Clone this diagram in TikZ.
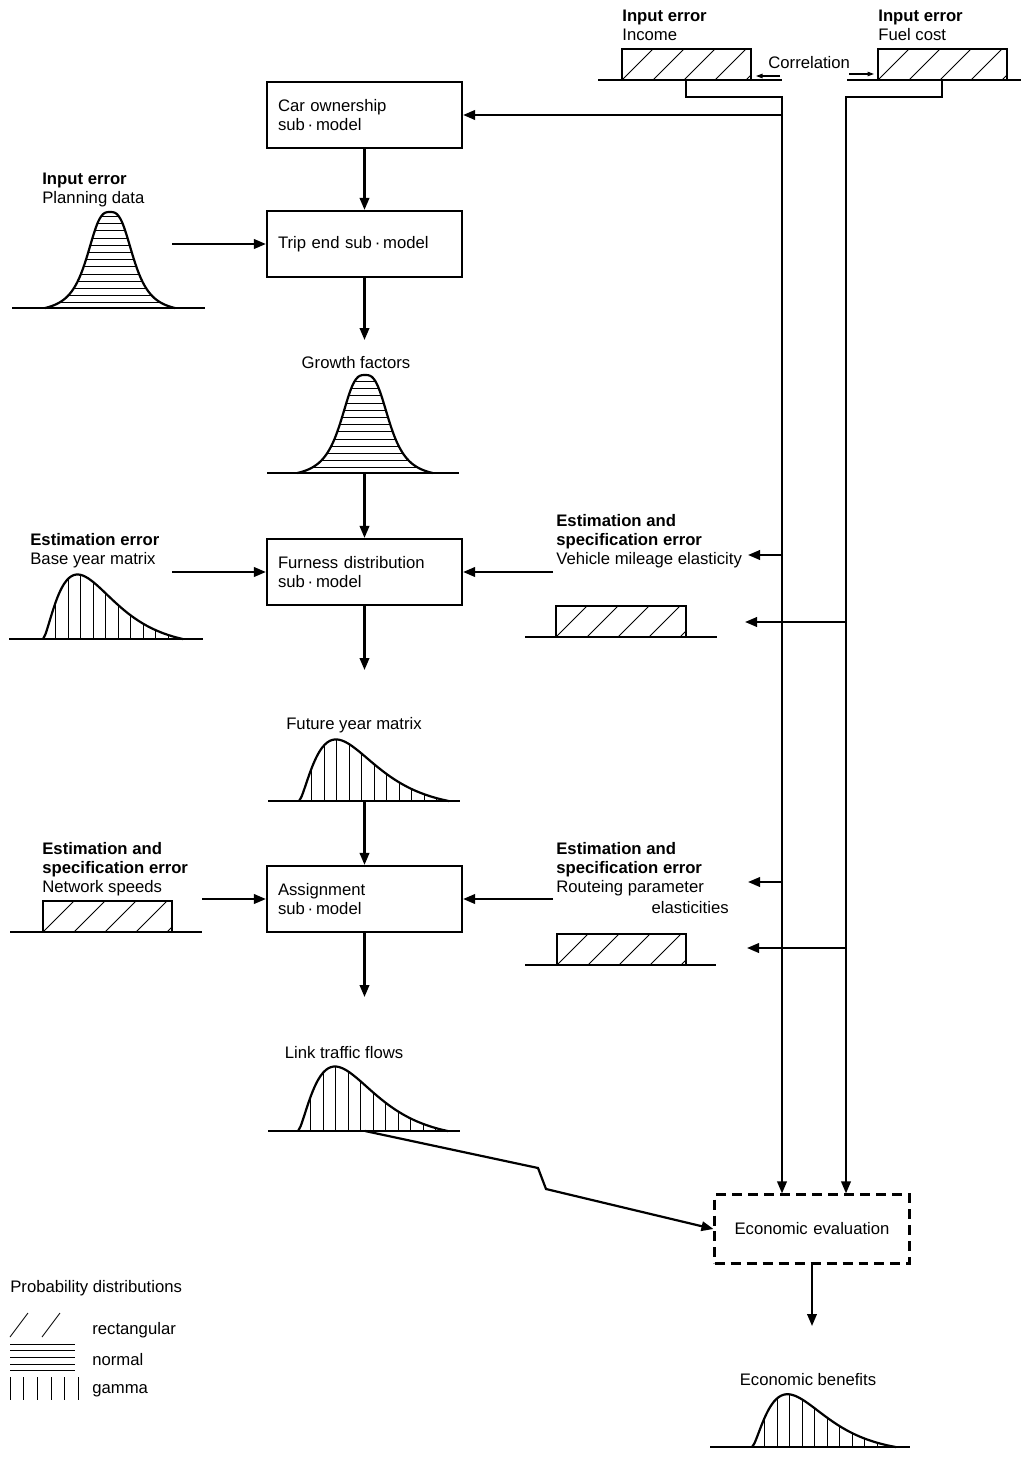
\documentclass[tikz,border=0pt]{standalone}
\usepackage{fontspec}
\setmainfont{Liberation Sans}
\usetikzlibrary{arrows.meta}

\newcommand{\txtsize}{\fontsize{9.5}{10.8}\selectfont}

% rectangular distribution: base from #1 to #2, block from #3 to #4, baseline #5
\newcommand{\flatbox}[5]{%
  \begin{scope}
    \clip (#3,#5) rectangle (#4,#5-31);
    \foreach \i in {0,...,4} \draw[hatch] ({#3+\i*31},#5) -- ++(31,-31);
  \end{scope}
  \draw[line] (#1,#5) -- (#2,#5);
  \draw[line] (#3,#5) rectangle (#4,#5-31);
}

% normal distribution: centre #1, baseline #2, spread #3, height #4, base from #5 to #6
\newcommand{\bellhump}[6]{%
  \begin{scope}
    \clip plot[domain=-2.6*#3:2.6*#3,samples=70] ({#1+\x},{#2-#4*(1/(1+(\x*\x/(#3*#3))*sqrt(\x*\x/(#3*#3)))-0.054)/0.946}) -- cycle;
    \foreach \i in {1,...,14} \draw[hatch] (#5,#2-\i*7.2+2) -- (#6,#2-\i*7.2+2);
  \end{scope}
  \draw[line] (#5,#2) -- (#6,#2);
  \draw[line] plot[domain=-2.6*#3:2.6*#3,samples=70,smooth] ({#1+\x},{#2-#4*(1/(1+(\x*\x/(#3*#3))*sqrt(\x*\x/(#3*#3)))-0.054)/0.946});
}

% gamma distribution: start #1, baseline #2, width #3, height #4, base from #5 to #6
\newcommand{\skewhump}[6]{%
  \begin{scope}
    \clip plot[domain=0:6,samples=60] ({#1+#3*\x/6},{#2-#4*((\x/1.5)*sqrt(\x/1.5)*exp(1.5-\x)-0.015*\x)}) -- cycle;
    \foreach \i in {1,...,11} \draw[hatch] ({#1+\i*12.5},#2) -- ++(0,-90);
  \end{scope}
  \draw[line] (#5,#2) -- (#6,#2);
  \draw[line] plot[domain=0:6,samples=60,smooth] ({#1+#3*\x/6},{#2-#4*((\x/1.5)*sqrt(\x/1.5)*exp(1.5-\x)-0.015*\x)});
}

\begin{document}
\begin{tikzpicture}[x=0.02cm,y=-0.02cm,
    line/.style={line width=1.25pt},
    hatch/.style={line width=0.5pt},
    box/.style={draw,line width=1.25pt,minimum width=3.9cm,minimum height=1.32cm,
                text width=3.46cm,inner xsep=0.22cm,align=left,font=\txtsize},
    lbl/.style={inner sep=0,align=left,font=\txtsize},
    tip/.style={-{Triangle[length=0.24cm,width=0.19cm]}},
    smalltip/.style={-{Triangle[length=0.13cm,width=0.09cm]},line width=0.6pt},
    every edge/.append style={line,tip}]
\useasboundingbox (0,0) rectangle (1021,1459);

            % sub-models
            \node[box] (1) at (364.5,115) {Car ownership\\sub\,·\,model};
            \node[box] (2) at (364.5,244) {Trip end sub\,·\,model};
            \node[box] (3) at (364.5,572) {Furness distribution\\sub\,·\,model};
            \node[box] (4) at (364.5,899) {Assignment\\sub\,·\,model};
            \node[box,dashed,dash pattern=on 0.2cm off 0.12cm,minimum height=1.38cm,align=center,text width=3.46cm] (5) at (812,1229) {Economic evaluation};

            % labels
            \node[lbl,anchor=north west] (6) at (622,10) {\textbf{Input error}\\Income};
            \node[lbl,anchor=north west] (7) at (878,10) {\textbf{Input error}\\Fuel cost};
            \node[lbl,anchor=west] (8) at (768,63) {Correlation};
            \node[lbl,anchor=north west] (9) at (42,173) {\textbf{Input error}\\Planning data};
            \node[lbl] (10) at (356,363) {Growth factors};
            \node[lbl,anchor=north west] (11) at (30,533) {\textbf{Estimation error}\\Base year matrix};
            \node[lbl,anchor=north west] (12) at (556,514) {\textbf{Estimation and}\\\textbf{specification error}\\Vehicle mileage elasticity};
            \node[lbl] (13) at (354,725) {Future year matrix};
            \node[lbl,anchor=north west] (14) at (42,842) {\textbf{Estimation and}\\\textbf{specification error}\\Network speeds};
            \node[lbl,anchor=north west] (15) at (556,842) {\textbf{Estimation and}\\\textbf{specification error}\\Routeing parameter};
            \node[lbl,anchor=east] (16) at (729,908) {elasticities};
            \node[lbl] (17) at (344,1053) {Link traffic flows};
            \node[lbl] (18) at (808,1380) {Economic benefits};
            \node[lbl,anchor=west] (19) at (10,1288) {Probability distributions};
            \node[lbl,anchor=west] (20) at (92,1330) {rectangular};
            \node[lbl,anchor=west] (21) at (92,1360) {normal};
            \node[lbl,anchor=west] (22) at (92,1391) {gamma};

            % distributions
            \flatbox{598}{782}{622}{751}{80}
            \flatbox{847}{1021}{878}{1007}{80}
            \flatbox{525}{717}{556}{686}{637}
            \flatbox{10}{202}{43}{172}{932}
            \flatbox{525}{716}{557}{686}{965}
            \bellhump{110}{308}{25}{96}{12}{205}
            \bellhump{365}{473}{26}{98}{267}{459}
            \skewhump{43}{639}{140}{66}{9}{203}
            \skewhump{299}{801}{150}{63}{268}{460}
            \skewhump{298}{1131}{150}{66}{268}{460}
            \skewhump{752}{1447}{144}{54}{710}{910}

            % free ends
            \coordinate (p1) at (364.5,340);
            \coordinate (p2) at (364.5,473);
            \coordinate (p3) at (364.5,670);
            \coordinate (p4) at (364.5,801);
            \coordinate (p5) at (364.5,997);
            \coordinate (p6) at (172,244);
            \coordinate (p7) at (172,572);
            \coordinate (p8) at (202,899);
            \coordinate (p9) at (553,572);
            \coordinate (p10) at (553,899);
            \coordinate (p11) at (365,1131);
            \coordinate (p12) at (812,1326);
            \coordinate (q1) at (686,80);
            \coordinate (q2) at (782,97);
            \coordinate (q3) at (942,80);
            \coordinate (q4) at (846,97);
            \coordinate (r1) at (748,555);
            \coordinate (r2) at (745,622);
            \coordinate (r3) at (748,882);
            \coordinate (r4) at (747,948);

            % flow down the chain
            \path (1) edge (2) (2) edge (p1) (p2) edge (3) (3) edge (p3)
                  (p4) edge (4) (4) edge (p5) (5) edge (p12);
            \path (p6) edge (2) (p7) edge (3) (p8) edge (4)
                  (p9) edge (3) (p10) edge (4);
            \draw[line,tip] (p11) -- (538,1168) -- (546,1189) -- (5.west);

            % income and fuel cost lines
            \draw[line,tip] (q1) |- (q2) -- (q2 |- 5.north);
            \draw[line,tip] (q3) |- (q4) -- (q4 |- 5.north);
            \path (q2 |- 1.east) edge (1.east)
                  (q2 |- r1) edge (r1) (q4 |- r2) edge (r2)
                  (q2 |- r3) edge (r3) (q4 |- r4) edge (r4);
            \draw[smalltip] (780,76) -- (756,76);
            \draw[smalltip] (849,74) -- (874,74);

            % legend
            \draw[hatch] (10,1337) -- (28,1313) (42,1337) -- (60,1313);
            \foreach \y in {1344,1350,1357,1364,1370} \draw[hatch] (10,\y) -- (75,\y);
            \foreach \x in {10,23,37,51,64,78} \draw[hatch] (\x,1377) -- (\x,1400);
\end{tikzpicture}
\end{document}
